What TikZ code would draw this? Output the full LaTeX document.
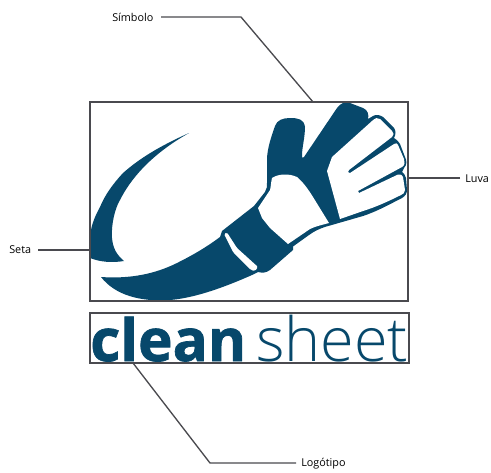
\documentclass[tikz,border=0pt]{standalone}
\usepackage{fontspec}
\setmainfont{Open Sans}
\newfontfamily\lightfont{Open Sans Light}
\newfontfamily\heavyfont[FakeBold=1.2]{Open Sans Bold}
\definecolor{brand}{HTML}{07486B}
\definecolor{rule}{HTML}{4A4A4F}
\tikzset{
  framebox/.style={draw=rule,line width=1.1pt,fill=none,inner sep=0pt,minimum width=0.75pt*318,minimum height=0.75pt*199},
  callout/.style={font=\fontsize{8.1pt}{9pt}\selectfont,text=black,inner sep=0pt},
  leader/.style={draw=rule,line width=1pt},
  ink/.style={fill=brand,draw=none},
  paper/.style={fill=white,draw=none}
}
\begin{document}
\begin{tikzpicture}[x=0.75pt,y=-0.75pt]
\useasboundingbox (0,0) rectangle (491,472);
\fill[white] (0,0) rectangle (491,472);
% crescent
\path[ink] (189,133) .. controls (160,146) and (140,158) .. (123,173)
  .. controls (112,185) and (105,195) .. (100,207)
  .. controls (94,218) and (90,228) .. (90,240)
  -- (90,258) .. controls (100,262) and (112,263) .. (124,261)
  .. controls (116,254) and (113,248) .. (112,238)
  .. controls (111,225) and (115,208) .. (120,200)
  .. controls (130,180) and (150,155) .. (189,133) -- cycle;
% glove and sleeve silhouette
\path[ink] (101,277)
  .. controls (130,279) and (155,274) .. (177,263)
  .. controls (195,254) and (208,246) .. (220,237)
  -- (222,231) -- (254,206) -- (265,192) .. controls (267,189) and (267,186) .. (267,183)
  -- (267,160) .. controls (267,148) and (272,135) .. (275,126)
  .. controls (277,120) and (283,118) .. (290,118)
  .. controls (298,118) and (304,119) .. (305,127)
  .. controls (305,137) and (302,148) .. (302,155)
  .. controls (302,158) and (303,159) .. (304,157)
  -- (337,108) .. controls (341,103) and (345,101) .. (350,103)
  -- (363,108) .. controls (368,110) and (369,115) .. (368,119)
  -- (373,116) .. controls (376,114) and (380,115) .. (383,117)
  -- (394,128) .. controls (396,131) and (396,134) .. (394,138)
  .. controls (397,140) and (399,142) .. (400,144)
  -- (405,157) .. controls (407,161) and (407,165) .. (404,168)
  -- (402,172) .. controls (404,173) and (405,175) .. (406,178)
  -- (407,190) .. controls (407,194) and (405,196) .. (402,198)
  .. controls (390,204) and (378,211) .. (363,216)
  -- (330,225.5) .. controls (320,228) and (313,232) .. (309,235)
  -- (293,246.5) -- (293,250) -- (270,270)
  .. controls (266,273) and (262,273) .. (258,272)
  -- (252,275)
  .. controls (225,287) and (195,298) .. (170,300)
  .. controls (140,302) and (115,295) .. (101,277) -- cycle;
% palm
\path[paper] (272,178) .. controls (278,174) and (288,173) .. (297,177)
  .. controls (303,182) and (308,189) .. (313,197)
  -- (329,223) .. controls (322,225) and (316,226) .. (310,229)
  -- (288,244) -- (270,228) -- (262,218) -- (258,208) -- (270,190)
  .. controls (271,186) and (271,182) .. (272,178) -- cycle;
% fingers
\path[paper] (340,219) -- (327,171) -- (332,157) -- (372,121)
  .. controls (375,118) and (378,117) .. (380,119)
  -- (392,131) .. controls (394,133) and (394,135) .. (392,137)
  -- (349,170) -- (348,172) -- (350,173) -- (394,144)
  .. controls (396,143) and (397,143) .. (398,145)
  -- (404,159) .. controls (405,162) and (405,165) .. (402,167)
  -- (358,191) -- (359,193) -- (398,174.5)
  .. controls (401,174) and (402,175) .. (403,177)
  -- (405,190) .. controls (405,193) and (403,194) .. (401,195)
  .. controls (389,201) and (376,207) .. (363,211) -- cycle;
% cuff stripe
\path[paper,rounded corners=1pt] (224,234) -- (227,232.5) -- (237,248) -- (258,267) -- (255,271) -- (251,270) -- (233,252) -- cycle;
% logo words
\node[inner sep=0pt,anchor=base west,text=brand,font=\fontsize{48pt}{50pt}\selectfont\heavyfont] (cleanword) at (90,361) {\resizebox{117pt}{!}{clean}};
\node[inner sep=0pt,anchor=base west,text=brand,font=\fontsize{48pt}{50pt}\selectfont\lightfont] (sheetword) at (256,361) {\resizebox{114pt}{!}{sheet}};
% frames
\node[framebox] (symbolframe) at (249,201.5) {};
\node[framebox,minimum width=0.75pt*319,minimum height=0.75pt*50] (logoframe) at (249.5,338) {};
% labels
\node[callout,anchor=west] (simbolo) at (112,17) {Símbolo};
\node[callout,anchor=west] (luva) at (465,178.5) {Luva};
\node[callout,anchor=west] (seta) at (9,250) {Seta};
\node[callout,anchor=west] (logotipo) at (301,463.5) {Logótipo};
% leaders
\coordinate (simbolostart) at (161,17);
\coordinate (simboloelbow) at (241,17);
\coordinate (simboloend) at (313,102);
\coordinate (luvastart) at (460,178);
\coordinate (luvaend) at (408,178);
\coordinate (setastart) at (38,250);
\coordinate (setaend) at (90,250);
\coordinate (logostart) at (296,463);
\coordinate (logoelbow) at (210,463);
\coordinate (logoend) at (133,363);
\draw[leader] (simbolostart) -- (simboloelbow) -- (simboloend);
\draw[leader] (luvastart) -- (luvaend);
\draw[leader] (setastart) -- (setaend);
\draw[leader] (logostart) -- (logoelbow) -- (logoend);
\end{tikzpicture}
\end{document}
